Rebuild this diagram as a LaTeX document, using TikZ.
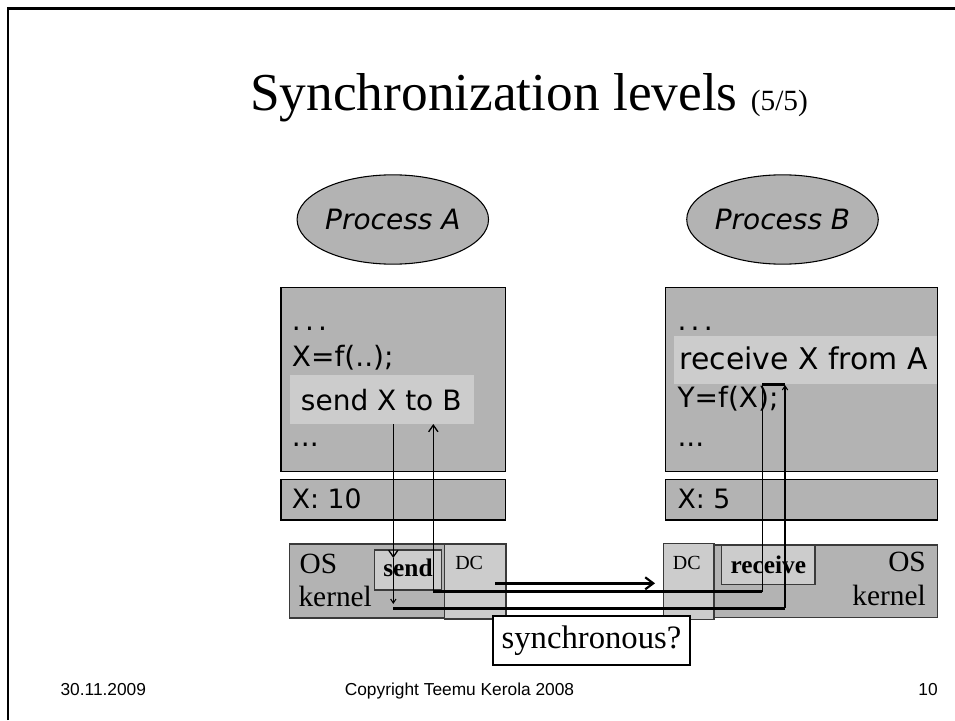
\documentclass[tikz,border=0pt]{standalone}
\usepackage{fontspec}
\setmainfont{Liberation Serif}
\newfontfamily\codefont{DejaVu Sans}
\newfontfamily\footfont{Liberation Sans}
\usetikzlibrary{shapes.geometric,fit,arrows.meta}
\definecolor{boxgray}{HTML}{B3B3B3}
\definecolor{hlgray}{HTML}{CCCCCC}
\definecolor{edgegray}{HTML}{3A3A3A}
\begin{document}
\begin{tikzpicture}[x=0.75pt,y=-0.75pt,
  codebox/.style={fit={#1},inner sep=0pt,outer sep=0pt,draw=black,line width=1.1pt,fill=boxgray},
  kbox/.style={fit={#1},inner sep=0pt,outer sep=0pt,draw=edgegray,line width=0.8pt,fill=boxgray},
  lbox/.style={fit={#1},inner sep=0pt,outer sep=0pt,draw=edgegray,line width=0.8pt,fill=hlgray},
  hlbox/.style={fit={#1},inner sep=0pt,outer sep=0pt,fill=hlgray},
  code/.style={anchor=base west,inner sep=0pt,font=\codefont\fontsize{21}{24}\selectfont},
  varcode/.style={anchor=base west,inner sep=0pt,font=\codefont\fontsize{20}{24}\selectfont},
  serif/.style={inner sep=0pt,font=\fontsize{22}{26}\selectfont},
  proc/.style={ellipse,draw=black,line width=0.8pt,fill=boxgray,minimum width=119pt,minimum height=67pt,inner sep=0pt,font=\codefont\itshape\fontsize{21}{25}\selectfont},
  foot/.style={anchor=base,inner sep=0pt,font=\footfont\fontsize{13}{15}\selectfont},
  vline/.style={line width=1.1pt},
  hline/.style={line width=2pt},
  barb/.style={-{Straight Barb[length=5pt,width=7pt,line width=1pt]}},
  smallbarb/.style={-{Straight Barb[length=3pt,width=4pt,line width=0.8pt]}}
]
\useasboundingbox (0,0) rectangle (955,720);
% slide frame
\draw[line width=2pt] (8,720) -- (8,8.7) -- (955,8.7);
% title
\node[anchor=base west,inner sep=0pt,font=\fontsize{40}{44}\selectfont] (title) at (250,111)
  {Synchronization levels {\fontsize{22}{26}\selectfont(5/5)}};
% processes
\node[proc] (procA) at (392.8,219.5) {Process A};
\node[proc] (procB) at (782.5,219.5) {Process B};
% process A boxes
\node[codebox={(281,287.3) (505.7,471.7)}] (codeA) {};
\node[hlbox={(290,375) (474,424)}] (hlA) {};
\node[codebox={(281,479.3) (505.7,520)}] (varA) {};
\node[code] (dotsA1) at (291.7,330) {.\hspace{0.15em}.\hspace{0.15em}.};
\node[code] (lineA2) at (291.7,366.7) {X=f(..);};
\node[code] (lineA3) at (300.7,410) {send X to B};
\node[code] (dotsA4) at (291.7,446) {...};
\node[varcode] (xA) at (291.7,508.3) {X: 10};
% process B boxes
\node[codebox={(665.7,287.3) (937.3,471.7)}] (codeB) {};
\node[hlbox={(674.3,335.7) (936.7,384.3)}] (hlB) {};
\node[codebox={(665.7,479.3) (937.3,520)}] (varB) {};
\node[code] (dotsB1) at (677.3,330) {.\hspace{0.15em}.\hspace{0.15em}.};
\node[code,font=\codefont\fontsize{22.4}{24}\selectfont] (lineB2) at (679.3,369.3) {receive X from A};
\node[code] (lineB3) at (677.3,407.3) {Y=f(X);};
\node[code] (dotsB4) at (677.3,446) {...};
\node[varcode] (xB) at (677.3,508.3) {X: 5};
% kernel A
\node[kbox={(289.3,544) (444.3,618)}] (kernA) {};
\node[lbox={(374.3,550) (441.7,590)}] (sendbox) {};
\node[lbox={(444.3,544) (506,619)}] (dcA) {};
\node[serif,anchor=base west] (osA) at (299.3,573.3) {OS};
\node[serif,anchor=base west] (kA) at (298.3,606.7) {kernel};
\node[anchor=base,inner sep=0pt,font=\bfseries\fontsize{19}{22}\selectfont] (sendt) at (408,576) {send};
\node[anchor=base west,inner sep=0pt,font=\fontsize{15}{18}\selectfont] (dcAt) at (455,569.3) {DC};
% kernel B
\node[kbox={(664,545) (937.3,617.3)}] (kernB) {};
\node[lbox={(663.3,543.3) (714,619.3)}] (dcB) {};
\node[lbox={(721.7,545) (815,584.3)}] (recvbox) {};
\node[serif,anchor=base east] (osB) at (926,571.7) {OS};
\node[serif,anchor=base east] (kB) at (926,605) {kernel};
\node[anchor=base,inner sep=0pt,font=\bfseries\fontsize{19}{22}\selectfont] (recvt) at (768.3,573.3) {receive};
\node[anchor=base west,inner sep=0pt,font=\fontsize{15}{18}\selectfont] (dcBt) at (672.7,569.3) {DC};
% connector waypoints
\coordinate (p1) at (393.3,424);
\coordinate (p2) at (393.3,558);
\coordinate (p3) at (393.3,604);
\coordinate (q1) at (393.3,608.3);
\coordinate (q2) at (785,608.3);
\coordinate (q3) at (785,385);
\coordinate (r1) at (762.3,384.3);
\coordinate (r2) at (785,384.3);
\coordinate (s1) at (762.3,591.7);
\coordinate (s2) at (433.3,591.7);
\coordinate (s3) at (433.3,424);
\coordinate (d1) at (495,583.3);
\coordinate (d2) at (655,583.3);
% connectors
\draw[vline,barb] (p1) -- (p2);
\draw[vline,smallbarb] (p2) -- (p3);
\draw[hline] (q1) -- (q2);
\draw[vline,smallbarb] (q2) -- (q3);
\draw[hline] (r1) -- (r2);
\draw[vline] (r1) -- (s1);
\draw[hline] (s1) -- (s2);
\draw[vline,barb] (s2) -- (s3);
\draw[hline,-{Straight Barb[length=6pt,width=9pt,line width=1.6pt]}] (d1) -- (d2);
% synchronous box
\node[fit={(493,616) (690,665)},inner sep=0pt,outer sep=0pt,draw=black,line width=0.8pt,fill=white] (syncbox) {};
\node[anchor=center,inner sep=0pt,font=\fontsize{24.5}{28}\selectfont] (synct) at (syncbox.center) {synchronous?};
% footer
\node[foot] (date) at (103.3,695) {30.11.2009};
\node[foot] (copy) at (459.5,695) {Copyright Teemu Kerola 2008};
\node[foot] (page) at (928,695) {10};
\end{tikzpicture}
\end{document}
